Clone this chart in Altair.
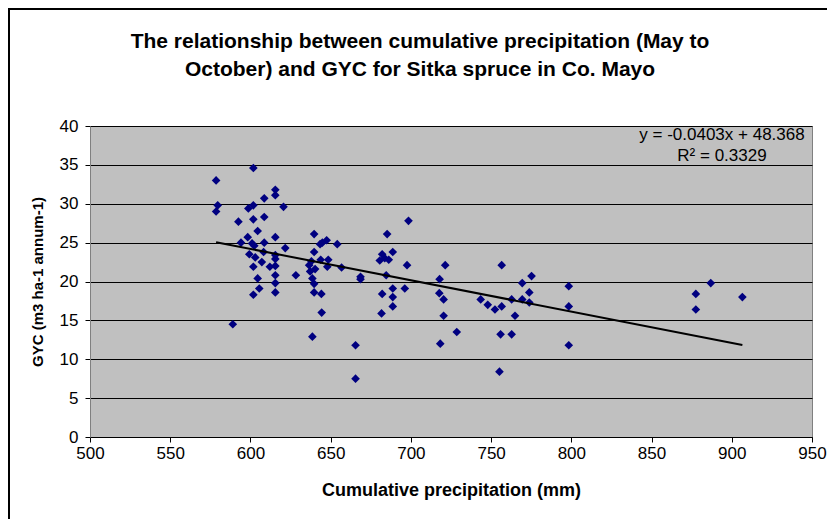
import altair as alt
import pandas as pd

precip = [578.6, 579.6, 578.6, 589.0, 592.5, 594.1, 598.3, 598.7, 599.3, 601.0,
          601.8, 601.8, 601.8, 601.8, 601.8, 602.4, 603.0, 604.5, 604.5, 605.5,
          607.1, 608.2, 608.6, 608.6, 608.6, 612.1, 615.5, 615.5, 615.5, 615.5,
          615.5, 615.5, 615.5, 615.5, 615.5, 620.6, 621.7, 628.3, 636.6, 637.2,
          638.0, 638.6, 638.6, 639.7, 639.7, 639.7, 639.7, 640.3, 643.4, 643.8,
          644.2, 644.4, 644.8, 647.5, 647.9, 648.5, 654.1, 656.8, 665.5, 665.5,
          668.6, 668.6, 680.6, 681.7, 682.1, 682.1, 683.7, 684.6, 685.2, 686.2,
          688.7, 688.7, 688.7, 688.7, 696.2, 697.6, 698.5, 717.7, 717.9, 718.3,
          720.4, 720.4, 721.4, 728.6, 743.5, 747.9, 752.4, 755.2, 755.9, 756.6,
          756.6, 762.8, 762.8, 764.9, 769.4, 769.4, 773.8, 773.8, 775.2, 798.4,
          798.4, 798.4, 877.6, 877.6, 886.9, 906.6]
gyc = [33.0, 29.8, 29.0, 14.5, 27.7, 25.0, 25.7, 29.4, 23.5, 24.9,
       34.6, 29.8, 28.0, 21.9, 18.3, 24.6, 23.1, 26.5, 20.4, 19.1,
       22.5, 23.8, 30.7, 28.3, 25.0, 21.9, 31.8, 31.1, 25.7, 23.4,
       22.9, 22.0, 20.8, 19.8, 18.6, 29.6, 24.3, 20.8, 22.1, 21.3,
       22.6, 20.4, 12.9, 26.1, 23.8, 19.7, 18.6, 21.6, 24.8, 22.8,
       18.4, 16.0, 25.0, 25.3, 21.9, 22.8, 24.8, 21.8, 11.8, 7.5,
       20.6, 20.3, 22.7, 15.9, 23.5, 18.4, 23.0, 20.8, 26.1, 22.8,
       23.8, 19.1, 18.0, 16.8, 19.1, 22.1, 27.8, 18.5, 20.3, 12.0,
       17.7, 15.6, 22.1, 13.5, 17.7, 17.0, 16.4, 8.4, 13.2, 22.1,
       16.8, 17.7, 13.2, 15.6, 19.8, 17.7, 18.6, 17.3, 20.7, 19.4,
       16.8, 11.8, 18.4, 16.4, 19.8, 18.0]

slope = [-0.0403]
intercept = [48.368]
eq_lines = ["y = -0.0403x + 48.368", "R\u00b2 = 0.3329"]
title_lines = ["The relationship between cumulative precipitation (May to",
               "October) and GYC for Sitka spruce in Co. Mayo"]
x_ticks = [500, 550, 600, 650, 700, 750, 800, 850, 900, 950]
y_ticks = [0, 5, 10, 15, 20, 25, 30, 35, 40]

FONT = "Liberation Sans"
W, H = 722, 311

df = pd.DataFrame({"precip": precip, "gyc": gyc})
xs = [min(precip), max(precip)]
trend = pd.DataFrame({"precip": xs, "gyc": [slope[0] * v + intercept[0] for v in xs]})
eq = pd.DataFrame({"line": ["\n".join(eq_lines)]})
ttl = pd.DataFrame({"line": ["\n".join(title_lines)]})

xsc = alt.Scale(domain=[500, 950], nice=False, zero=False)
ysc = alt.Scale(domain=[0, 40], nice=False)

xax = alt.Axis(values=x_ticks, grid=False, title="Cumulative precipitation (mm)",
               labelFont=FONT, labelFontSize=17, labelColor="black", labelPadding=3,
               titleFont=FONT, titleFontSize=18, titleFontWeight="bold", titleColor="black",
               titlePadding=20, tickColor="black", tickSize=5, domainColor="black",
               labelFlush=False, labelOverlap=False)
yax = alt.Axis(values=y_ticks, grid=True, gridColor="black", gridWidth=1,
               title="GYC (m3 ha-1 annum-1)",
               labelFont=FONT, labelFontSize=17, labelColor="black", labelPadding=7,
               titleFont=FONT, titleFontSize=15, titleFontWeight="bold", titleColor="black",
               titlePadding=14, tickColor="black", tickSize=5, domainColor="#808080",
               labelFlush=False, labelOverlap=False)

border = alt.Chart(pd.DataFrame({"a": [0]})).mark_rect(
    fill=None, stroke="black", strokeWidth=2
).encode(x=alt.value(-81), x2=alt.value(W + 300), y=alt.value(-117), y2=alt.value(H + 300))

points = alt.Chart(df).mark_point(
    shape="diamond", filled=True, color="#000080", size=75, opacity=1
).encode(x=alt.X("precip:Q", scale=xsc, axis=xax), y=alt.Y("gyc:Q", scale=ysc, axis=yax))

line = alt.Chart(trend).mark_line(color="black", strokeWidth=2).encode(
    x=alt.X("precip:Q", scale=xsc, axis=xax), y=alt.Y("gyc:Q", scale=ysc, axis=yax))

eqtext = alt.Chart(eq).mark_text(
    font=FONT, fontSize=17, color="black", align="center", baseline="middle",
    lineBreak="\n", lineHeight=21
).encode(text="line:N", x=alt.value(632), y=alt.value(9))

titletext = alt.Chart(ttl).mark_text(
    font=FONT, fontSize=21, fontWeight="bold", color="black", align="center",
    baseline="middle", lineBreak="\n", lineHeight=28
).encode(text="line:N", x=alt.value(330), y=alt.value(-84))

chart = alt.layer(border, points, line, eqtext, titletext).properties(
    width=W, height=H,
    autosize=alt.AutoSizeParams(type="none"),
    padding={"left": 82, "top": 118, "right": 15, "bottom": 82},
).configure(background="white").configure_view(fill="#C0C0C0", stroke="#808080", strokeWidth=1)

chart.save("out.html", embed_options={"renderer": "svg", "actions": False})
